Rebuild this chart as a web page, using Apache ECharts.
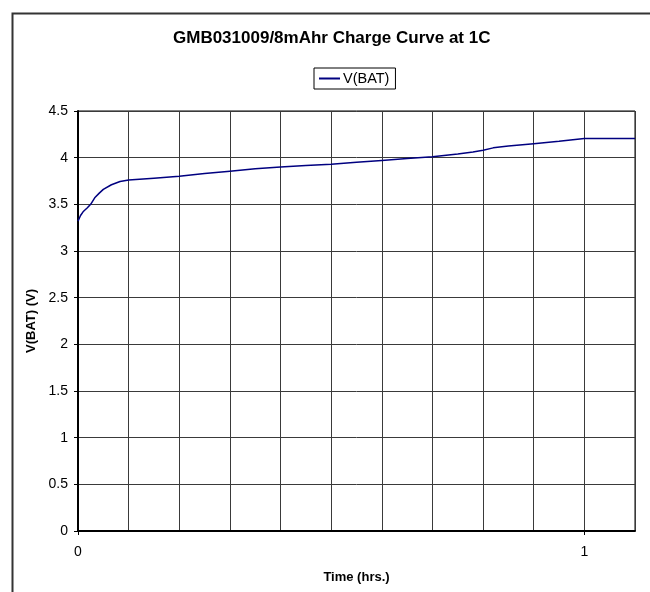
<!DOCTYPE html>
<html>
<head>
<meta charset="utf-8">
<script src="https://cdn.jsdelivr.net/npm/echarts@6/dist/echarts.min.js"></script>
<style>html,body{margin:0;padding:0;background:#fff}#c{width:650px;height:592px}</style>
</head>
<body>
<div id="c"></div>
<script>
const timeHrs = [0, 0.005, 0.01, 0.018, 0.025, 0.033, 0.042, 0.05, 0.066, 0.083, 0.1, 0.15, 0.2, 0.25, 0.3, 0.35, 0.4, 0.45, 0.5, 0.55, 0.6, 0.65, 0.7, 0.75, 0.78, 0.8, 0.82, 0.85, 0.9, 0.95, 1.0, 1.1];
const vBat = [3.32, 3.38, 3.42, 3.46, 3.50, 3.57, 3.62, 3.66, 3.71, 3.745, 3.76, 3.78, 3.80, 3.83, 3.855, 3.88, 3.90, 3.915, 3.93, 3.95, 3.97, 3.99, 4.01, 4.04, 4.06, 4.08, 4.105, 4.125, 4.15, 4.175, 4.205, 4.205];
const xTickLabels = [0, 1];
const titleText = 'GMB031009/8mAhr Charge Curve at 1C';
const seriesName = 'V(BAT)';

const font = 'Liberation Sans, Arial, sans-serif';
const chart = echarts.init(document.getElementById('c'));
chart.setOption({
  animation: false,
  backgroundColor: '#fff',
  graphic: [{
    type: 'rect', left: 10, top: 11, z: -10,
    shape: { width: 660, height: 600 },
    style: { fill: 'none', stroke: '#333', lineWidth: 2 }
  }],
  title: {
    text: titleText, left: 173, top: 30, padding: 0,
    textStyle: { fontFamily: font, fontSize: 17, fontWeight: 'bold', color: '#000' }
  },
  legend: {
    left: 314, top: 68, padding: [3, 6, 3, 5],
    borderColor: '#000', borderWidth: 1, backgroundColor: '#fff',
    itemWidth: 21, itemHeight: 2, itemGap: 4,
    textStyle: { fontFamily: font, fontSize: 14.5, color: '#000', padding: [0, 0, 0, -2] },
    data: [{ name: seriesName, icon: 'rect' }]
  },
  grid: { left: 78, right: 15, top: 111, bottom: 61, show: true, borderColor: '#000', borderWidth: 1 },
  xAxis: [{
    type: 'value', min: 0, max: 1.1, interval: 0.1,
    axisLine: { show: false },
    axisTick: { show: false },
    axisLabel: { show: false },
    splitLine: { show: true, lineStyle: { color: '#3a3a3a', width: 1 } }
  }, {
    type: 'value', min: 0, max: 1.1, interval: 0.1, position: 'bottom',
    name: 'Time (hrs.)', nameLocation: 'middle', nameGap: 40,
    nameTextStyle: { fontFamily: font, fontSize: 13, fontWeight: 'bold', color: '#000' },
    axisLine: { show: true, onZero: false, lineStyle: { color: '#000', width: 2 } },
    axisTick: { show: true, customValues: xTickLabels, length: 4, lineStyle: { color: '#000' } },
    axisLabel: { customValues: xTickLabels, margin: 14, fontFamily: font, fontSize: 14, color: '#000' },
    splitLine: { show: false }
  }],
  yAxis: {
    type: 'value', min: 0, max: 4.5, interval: 0.5,
    name: 'V(BAT) (V)', nameLocation: 'middle', nameGap: 40,
    nameTextStyle: { fontFamily: font, fontSize: 13, fontWeight: 'bold', color: '#000' },
    axisLine: { show: true, lineStyle: { color: '#000', width: 2 } },
    axisTick: { show: true, length: 4, lineStyle: { color: '#000' } },
    axisLabel: { margin: 10, fontFamily: font, fontSize: 14, color: '#000' },
    splitLine: { show: true, lineStyle: { color: '#3a3a3a', width: 1 } }
  },
  series: [{
    name: seriesName, type: 'line', symbol: 'none', smooth: false, xAxisIndex: 0,
    data: timeHrs.map((t, i) => [t, vBat[i]]),
    lineStyle: { color: '#000080', width: 1.5 },
    itemStyle: { color: '#000080' }
  }]
});
</script>
</body>
</html>
